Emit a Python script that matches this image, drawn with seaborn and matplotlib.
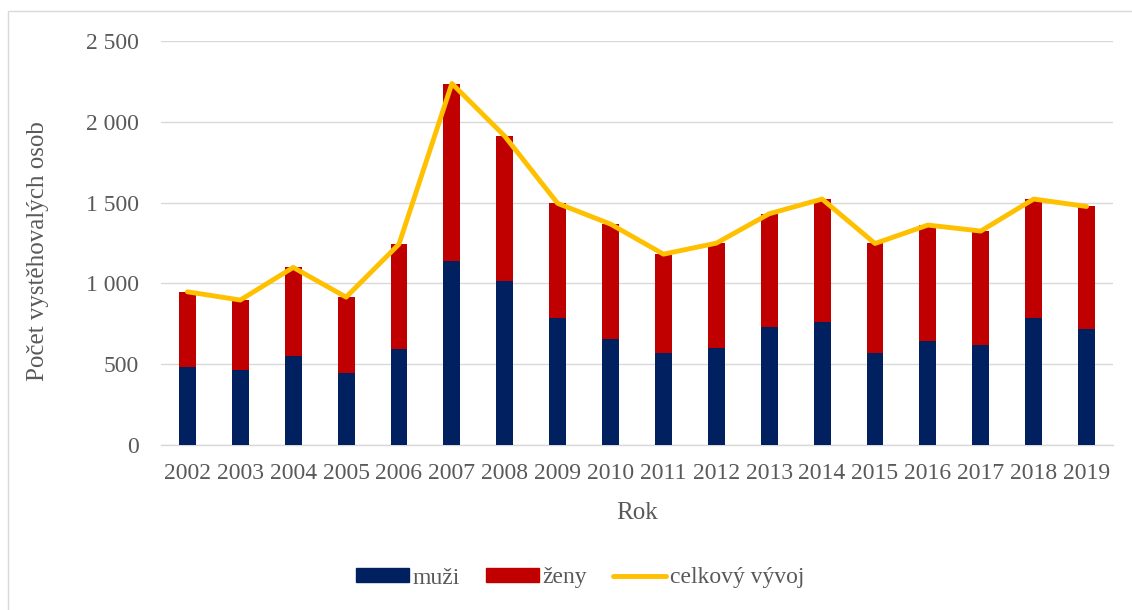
import matplotlib
matplotlib.use("Agg")
import matplotlib.pyplot as plt
import matplotlib.ticker as mticker
from matplotlib.patches import Rectangle
from matplotlib.lines import Line2D
import numpy as np
import pandas as pd
import seaborn as sns

roky = [str(r) for r in range(2002, 2020)]
muzi = [485, 462, 548, 443, 592, 1136, 1012, 786, 656, 571, 602, 728, 761, 571, 645, 616, 784, 718]
zeny = [463, 435, 551, 472, 651, 1101, 899, 709, 711, 610, 647, 703, 761, 676, 716, 708, 738, 758]
celkem = [m + z for m, z in zip(muzi, zeny)]

BLUE = "#002060"
RED = "#C00000"
GOLD = "#FFC000"
GRID = "#D9D9D9"
TEXT = "#595959"

sns.set_theme(style="white")
plt.rcParams["font.family"] = ["Liberation Serif", "DejaVu Serif"]

df = pd.DataFrame({"rok": roky, "muzi": muzi, "zeny": zeny, "celkem": celkem})

fig = plt.figure(figsize=(11.32, 6.10), dpi=100)
ax = fig.add_axes([161 / 1132, 1 - 445 / 610, (1113 - 161) / 1132, (445 - 41) / 610])

# stacked bars: total in red, men drawn over it in blue
sns.barplot(data=df, x="rok", y="celkem", color=RED, width=0.32, saturation=1,
            linewidth=0, edgecolor="none", ax=ax, zorder=2)
sns.barplot(data=df, x="rok", y="muzi", color=BLUE, width=0.32, saturation=1,
            linewidth=0, edgecolor="none", ax=ax, zorder=3)
sns.lineplot(x=np.arange(len(roky)), y=df["celkem"], color=GOLD, linewidth=3.5, ax=ax, zorder=4,
             solid_capstyle="round", solid_joinstyle="round")

ax.set_xlim(-0.5, len(roky) - 0.5)
ax.set_ylim(0, 2500)
ax.yaxis.set_major_locator(mticker.MultipleLocator(500))
ax.yaxis.set_major_formatter(mticker.FuncFormatter(lambda v, p: f"{int(v):,}".replace(",", " ")))
ax.grid(axis="y", color=GRID, linewidth=1.0, zorder=0)
ax.set_axisbelow(True)
for s in ["top", "right", "left"]:
    ax.spines[s].set_visible(False)
ax.spines["bottom"].set_color(GRID)
ax.spines["bottom"].set_linewidth(1.0)

ax.tick_params(axis="both", length=0, labelsize=17, colors=TEXT)
ax.tick_params(axis="x", pad=13)
ax.tick_params(axis="y", pad=16)

ax.set_xlabel("Rok", fontsize=18, color=TEXT)
ax.set_ylabel("Počet vystěhovalých osob", fontsize=18, color=TEXT)
ax.xaxis.set_label_coords(0.5, -0.142)
ax.yaxis.set_label_coords(-0.118, 0.48)

handles = [
    Rectangle((0, 0), 1, 1, color=BLUE),
    Rectangle((0, 0), 1, 1, color=RED),
    Line2D([0], [0], color=GOLD, linewidth=3.5, solid_capstyle="round"),
]
leg = fig.legend(handles, ["muži", "ženy", "celkový vývoj"], loc="center",
                 bbox_to_anchor=(580 / 1132, 1 - 578 / 610), ncol=3, frameon=False,
                 fontsize=17, handlelength=2.25, handleheight=0.55, handletextpad=0.15,
                 columnspacing=1.1)
for t in leg.get_texts():
    t.set_color(TEXT)

# chart area border
fig.patches.append(Rectangle((8 / 1132, -0.1), 1.2, 1 - 11 / 610 + 0.1, transform=fig.transFigure,
                             fill=False, edgecolor=GRID, linewidth=1.0))

fig.savefig("out.png", dpi=100)
